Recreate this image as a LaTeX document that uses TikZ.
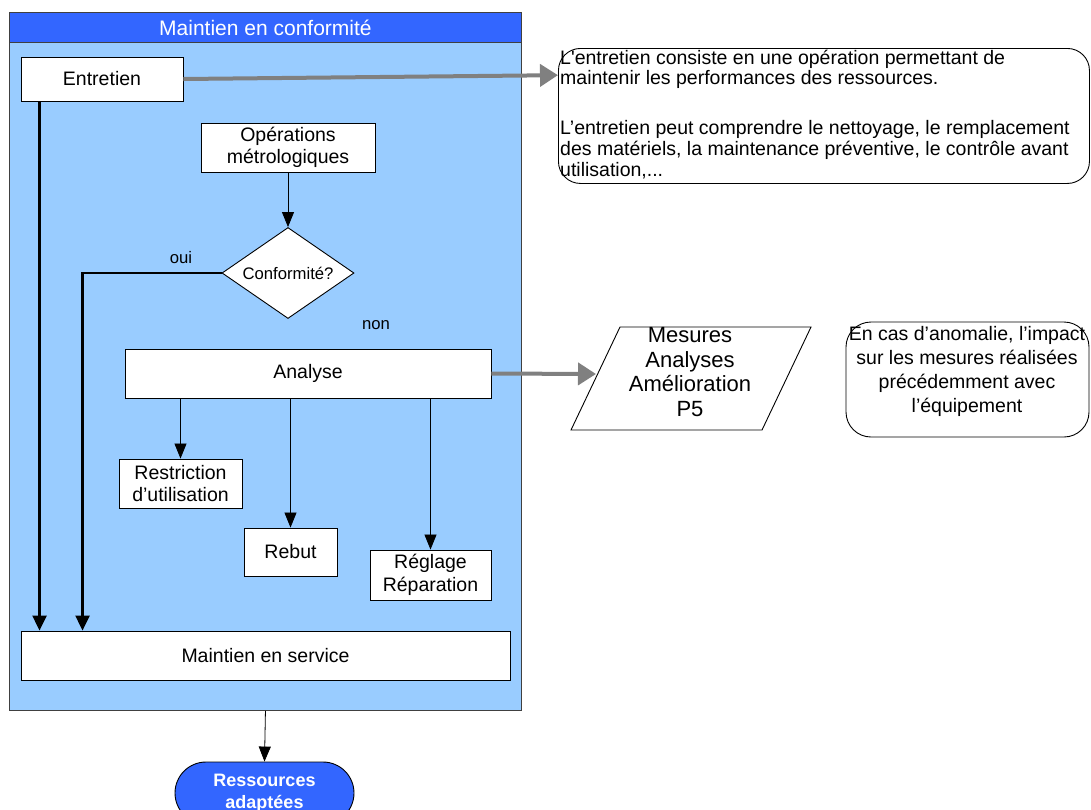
\documentclass[tikz,border=0pt]{standalone}
\usepackage{fontspec}
\setmainfont{Liberation Sans}
\newfontfamily\rawquote{Liberation Sans}[Ligatures=TeXOff]
\usetikzlibrary{arrows.meta,shapes.geometric,calc}
\definecolor{hdrblue}{HTML}{3366FF}
\definecolor{bodyblue}{HTML}{99CCFF}
\definecolor{linkgray}{HTML}{808080}
\definecolor{edgegray}{HTML}{404040}

\begin{document}
\begin{tikzpicture}[x=1pt,y=-1pt,
  txt/.style={font=\fontsize{19.5}{22.5}\selectfont},
  box/.style={txt, draw=black, fill=white, line width=0.9pt, inner sep=0pt, align=center},
  flow/.style={draw=black, line width=0.8pt, -{Triangle[length=15pt,width=12pt]}},
  bigflow/.style={draw=black, line width=2.6pt, -{Triangle[length=15pt,width=14pt]}},
  graylink/.style={draw=linkgray, line width=4pt, -{Triangle[length=18pt,width=22pt]}},
  notebox/.style={draw=black, line width=0.9pt, fill=white, inner sep=0pt},
  smalllabel/.style={font=\fontsize{16.7}{19}\selectfont}
]
\useasboundingbox (0,0) rectangle (1091,809);

% swimlane
\node[draw=edgegray, line width=0.9pt, fill=bodyblue, minimum width=512pt, minimum height=698pt,
      anchor=north west, inner sep=0pt] (cont) at (9,12) {};
\node[draw=edgegray, line width=0.9pt, fill=hdrblue, minimum width=512pt, minimum height=30pt,
      anchor=north west, inner sep=0pt, text=white, font=\fontsize{21}{24}\selectfont]
      (head) at (9,12) {Maintien en conformité};

% process boxes
\node[box, minimum width=162pt, minimum height=44pt] (entretien) at (102,79) {Entretien};
\node[box, minimum width=174pt, minimum height=49pt] (ops) at (288,147.5) {Opérations\\métrologiques};
\node[draw=black, line width=0.9pt, fill=white, diamond, shape aspect=1.45, minimum width=132pt,
      minimum height=91pt, inner sep=0pt, smalllabel] (conf) at (288,273) {Conformité?};
\node[box, minimum width=366pt, minimum height=49pt] (analyse) at (308,373.5) {Analyse};
\node[box, minimum width=123pt, minimum height=49pt] (restr) at (180.5,483.5) {Restriction\\d’utilisation};
\node[box, minimum width=93pt, minimum height=48pt] (rebut) at (290.5,552) {Rebut};
\node[box, minimum width=121pt, minimum height=50pt] (reglage) at (430.5,575) {Réglage\\Réparation};
\node[box, minimum width=489pt, minimum height=49pt] (service) at (265.5,655.5) {Maintien en service};

% labels of the decision
\node[smalllabel] (oui) at (181,258) {oui};
\node[smalllabel] (non) at (376,325) {non};

% terminal
\node[draw=black, line width=0.9pt, fill=hdrblue, rounded corners=31pt, minimum width=179pt,
      minimum height=62pt, inner sep=0pt, align=center, text=white,
      font=\bfseries\fontsize{18}{22}\selectfont] (res) at (264.5,793) {Ressources\\adaptées};

% explanatory note on maintenance
\node[notebox, rounded corners=22pt, minimum width=531pt, minimum height=135pt, anchor=north west]
      (note) at (558,48) {};
\node[txt, anchor=north west, inner sep=0pt, align=left, font=\fontsize{19.5}{20.8}\selectfont]
      (notetext) at (560,49.5) {L{\rawquote'}entretien consiste en une opération permettant de\\
      maintenir les performances des ressources.\\[29pt]
      L’entretien peut comprendre le nettoyage, le remplacement\\
      des matériels, la maintenance préventive, le contrôle avant\\
      utilisation,...};

% data parallelogram
\draw[line width=0.9pt, fill=white] (571,430) -- (620,327) -- (811,327) -- (762,430) -- cycle;
\node[align=center, inner sep=0pt, font=\fontsize{22}{24.7}\selectfont] (mesures) at (690,372)
      {Mesures\\Analyses\\Amélioration\\P5};
\coordinate (mesin) at (596,374);

% note on anomalies
\node[notebox, rounded corners=25pt, minimum width=243pt, minimum height=115pt] (anom) at (967.5,379.5) {};
\node[align=center, inner sep=0pt, font=\fontsize{19.5}{24}\selectfont] (anomtext) at (967,371)
      {En cas d’anomalie, l’impact\\sur les mesures réalisées\\précédemment avec\\l’équipement};

% connectors
\coordinate (notein) at ($(note.north west)!0.2!(note.south west)$);
\draw[graylink] (entretien.east) -- (notein);
\draw[graylink] (analyse.east) -- (mesin);

\draw[flow] (ops.south) -- (conf.north);
\draw[flow] (analyse.south -| restr.north) -- (restr.north);
\draw[flow] (analyse.south -| rebut.north) -- (rebut.north);
\draw[flow] (analyse.south -| reglage.north) -- (reglage.north);
\draw[flow] (cont.south) -- (res.north);

\draw[bigflow] ([xshift=19pt]entretien.south west) -- ([xshift=19pt]entretien.south west |- service.north);
\draw[bigflow] (conf.west) -| ([xshift=62pt]service.north west);
\end{tikzpicture}
\end{document}
